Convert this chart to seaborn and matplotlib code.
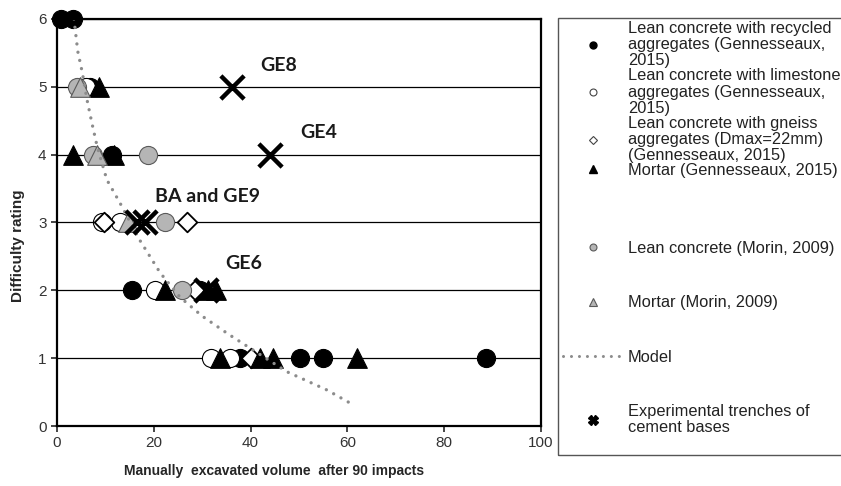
import matplotlib
matplotlib.use("Agg")
import matplotlib.pyplot as plt
from matplotlib.lines import Line2D
from matplotlib.patches import Rectangle
import seaborn as sns

# values
recycled_x = [0.8, 3.3, 6.8, 11.4, 15.5, 29.5, 37.8, 50.3, 55.0, 88.6]
recycled_y = [6, 6, 5, 4, 2, 2, 1, 1, 1, 1]
limestone_x = [5.9, 9.3, 13.0, 20.2, 31.8, 35.8]
limestone_y = [5, 3, 3, 2, 1, 1]
gneiss_x = [9.7, 26.9, 28.5, 40.0]
gneiss_y = [3, 3, 2, 1]
mortar_g_x = [8.7, 3.3, 11.8, 22.3, 31.2, 32.8, 33.6, 42.0, 44.6, 62.0]
mortar_g_y = [5, 4, 4, 2, 2, 2, 1, 1, 1, 1]
lean_morin_x = [4.1, 7.4, 18.8, 22.3, 25.8]
lean_morin_y = [5, 4, 4, 3, 2]
mortar_morin_x = [4.8, 8.2, 14.7]
mortar_morin_y = [5, 4, 3]
model_x = [3.5, 4.3, 5.2, 6.2, 7.2, 8.3, 10.3, 13.0, 17.1, 21.3, 25.4, 30.0, 35.5, 40.5, 47.5, 55.8, 61.5]
model_y = [6.0, 5.52, 5.22, 4.81, 4.47, 4.12, 3.63, 3.29, 2.74, 2.26, 1.90, 1.62, 1.35, 1.12, 0.80, 0.53, 0.30]
trench_x = [36.2, 44.0, 16.5, 18.2, 30.8]
trench_y = [5, 4, 3, 3, 2]
trench_names = ["GE8", "GE4", "BA and GE9", "GE6"]
trench_name_x = [41.9, 50.2, 20.2, 34.7]
trench_name_y = [5.32, 4.32, 3.38, 2.40]

legend_labels = [
    "Lean concrete with recycled\naggregates (Gennesseaux,\n2015)",
    "Lean concrete with limestone\naggregates (Gennesseaux,\n2015)",
    "Lean concrete with gneiss\naggregates (Dmax=22mm)\n(Gennesseaux, 2015)",
    "Mortar (Gennesseaux, 2015)",
    "Lean concrete (Morin, 2009)",
    "Mortar (Morin, 2009)",
    "Model",
    "Experimental trenches of\ncement bases",
]

sns.set_style("ticks")
plt.rcParams["font.family"] = ["Liberation Sans", "DejaVu Sans"]

W, H = 841, 486
fig = plt.figure(figsize=(W / 100, H / 100), dpi=100)
ax = fig.add_axes([57 / W, 1 - 426 / H, (541 - 57) / W, (426 - 19) / H])

gray = "#b5b5b5"
gray_edge = "#5a5a5a"

sns.scatterplot(x=recycled_x, y=recycled_y, ax=ax, marker="o", s=170, color="black",
                edgecolor="black", linewidth=0.8, clip_on=False)
sns.scatterplot(x=limestone_x, y=limestone_y, ax=ax, marker="o", s=170, color="white",
                edgecolor="black", linewidth=0.8, clip_on=False)
sns.scatterplot(x=gneiss_x, y=gneiss_y, ax=ax, marker="D", s=100, color="white",
                edgecolor="black", linewidth=1.3, clip_on=False)
sns.scatterplot(x=mortar_g_x, y=mortar_g_y, ax=ax, marker="^", s=200, color="black",
                edgecolor="black", linewidth=0.8, clip_on=False)
sns.scatterplot(x=lean_morin_x, y=lean_morin_y, ax=ax, marker="o", s=170, color=gray,
                edgecolor=gray_edge, linewidth=0.8, clip_on=False)
sns.scatterplot(x=mortar_morin_x, y=mortar_morin_y, ax=ax, marker="^", s=200, color=gray,
                edgecolor=gray_edge, linewidth=0.8, clip_on=False)
sns.lineplot(x=model_x, y=model_y, ax=ax, sort=False, estimator=None, color="#8c8c8c",
             linewidth=2.4, linestyle=(0, (0.01, 2.5)), dash_capstyle="round", zorder=2)
sns.scatterplot(x=trench_x, y=trench_y, ax=ax, marker="x", s=280, color="black",
                linewidth=3.2, zorder=3, clip_on=False)

for name, tx, ty in zip(trench_names, trench_name_x, trench_name_y):
    ax.text(tx, ty, name, ha="left", va="center", fontsize=14, fontweight="bold",
            family="Lato", color="#1a1a1a")

ax.set_xlim(0, 100)
ax.set_ylim(0, 6)
ax.set_xticks(range(0, 101, 20))
ax.set_yticks(range(0, 7))
ax.grid(axis="y", color="black", linewidth=0.9)
ax.set_axisbelow(True)
for side in ["left", "bottom", "right", "top"]:
    ax.spines[side].set_linewidth(1.6)
    ax.spines[side].set_color("black")
ax.tick_params(direction="out", length=4, width=1.2, labelsize=11, labelcolor="#333333")
ax.set_xlabel("Manually  excavated volume  after 90 impacts", fontsize=10, fontweight="bold")
ax.set_ylabel("Difficulty rating", fontsize=11, fontweight="bold")
ax.xaxis.set_label_coords((274 - 57) / 484, -45 / 407)
ax.yaxis.set_label_coords((18 - 57) / 484, (426 - 246) / 407)
ax.xaxis.label.set_va("center")
ax.yaxis.label.set_va("center")

# legend handles
h_recycled = Line2D([], [], ls="", marker="o", ms=5, mfc="black", mec="black")
h_limestone = Line2D([], [], ls="", marker="o", ms=5, mfc="white", mec="#444444", mew=0.8)
h_gneiss = Line2D([], [], ls="", marker="D", ms=4.5, mfc="white", mec="#444444", mew=0.8)
h_mortar_g = Line2D([], [], ls="", marker="^", ms=6, mfc="black", mec="black")
h_lean_m = Line2D([], [], ls="", marker="o", ms=5, mfc=gray, mec=gray_edge, mew=0.8)
h_mortar_m = Line2D([], [], ls="", marker="^", ms=6, mfc=gray, mec=gray_edge, mew=0.8)
h_model = Line2D([], [], color="#8c8c8c", lw=2.2, ls=(0, (0.01, 2.6)), dash_capstyle="round")
h_trench = Line2D([], [], ls="", marker="X", ms=7, mfc="black", mec="black")
handles = [h_recycled, h_limestone, h_gneiss, h_mortar_g, h_lean_m, h_mortar_m, h_model, h_trench]

leg_kw = dict(loc="upper left", frameon=False, borderaxespad=0, borderpad=0.3,
              handlelength=3.7, handletextpad=0.25, fontsize=11.8)
leg1 = fig.legend(handles[:4], legend_labels[:4], bbox_to_anchor=(558 / W, 1 - 16 / H),
                  labelspacing=0.0, **leg_kw)
leg2 = fig.legend(handles[4:], legend_labels[4:], bbox_to_anchor=(558 / W, 1 - 236 / H),
                  labelspacing=2.4, **leg_kw)
for leg in (leg1, leg2):
    for t in leg.get_texts():
        t.set_linespacing(1.1)
        t.set_color("#222222")

fig.add_artist(Rectangle((558 / W, 1 - 455 / H), 0.5, (455 - 18) / H, transform=fig.transFigure,
                         fill=False, edgecolor="#555555", linewidth=1.0))

fig.savefig("out.png", dpi=100)
